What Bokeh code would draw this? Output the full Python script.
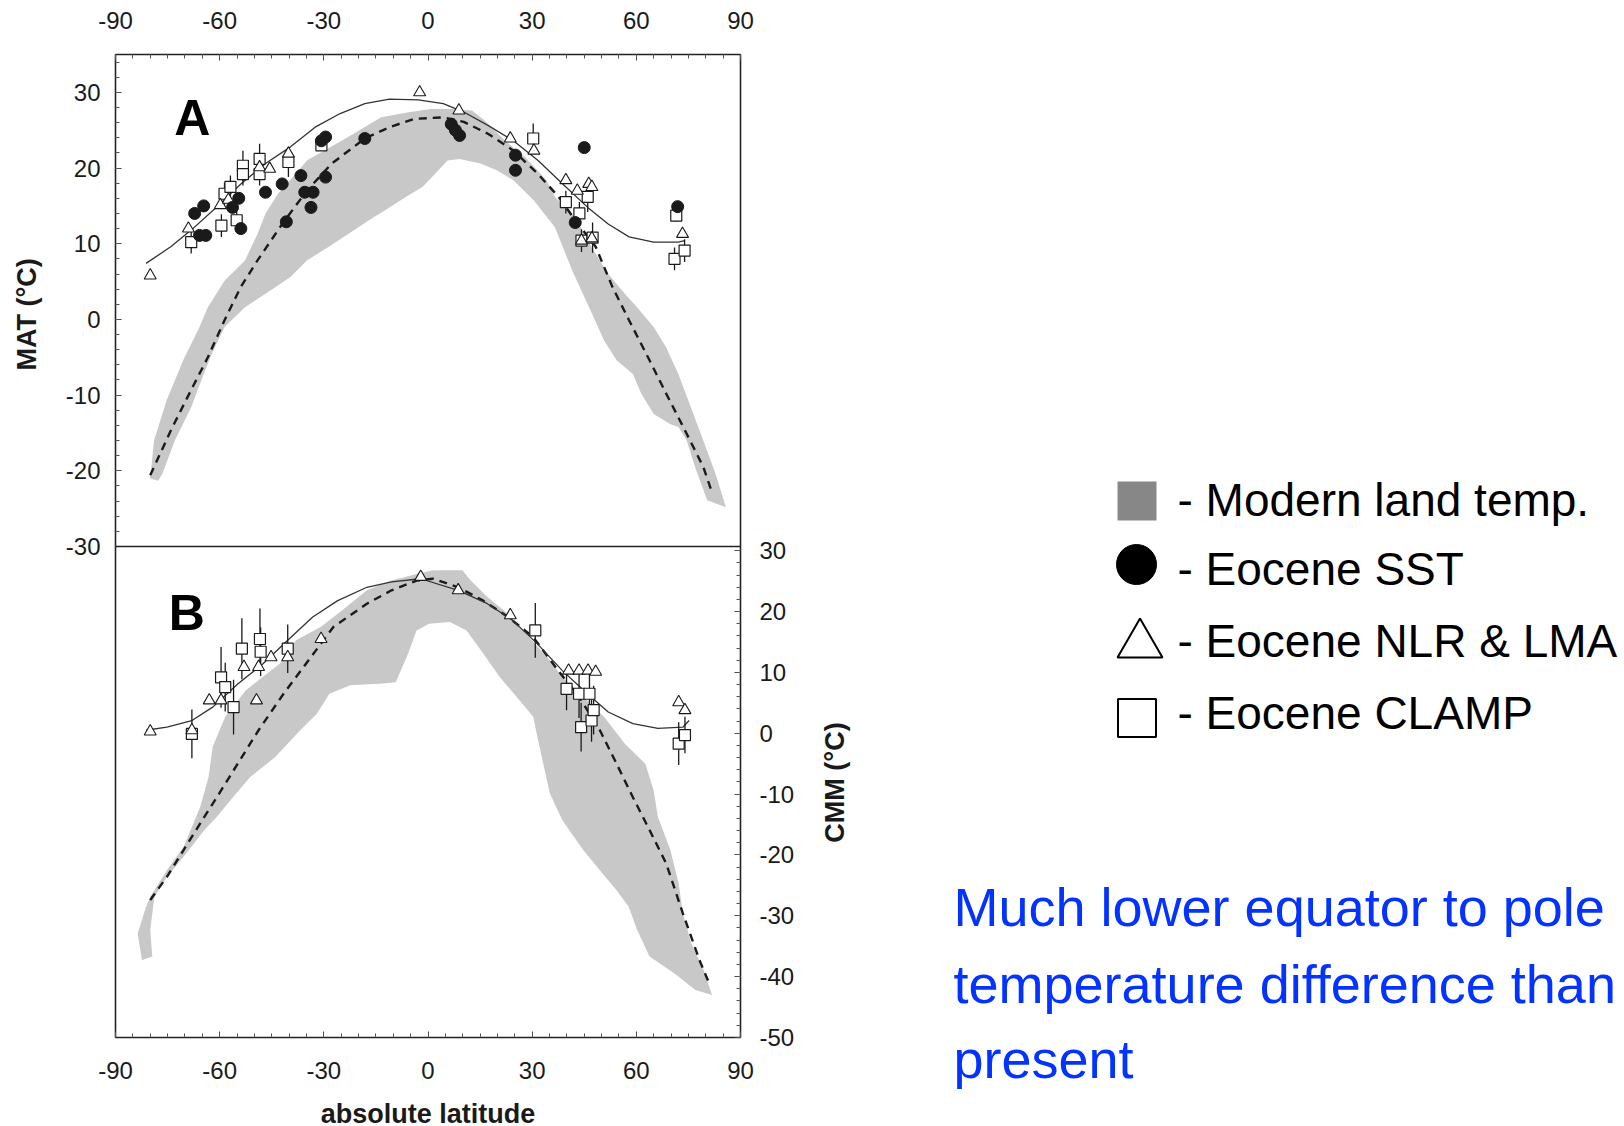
import math
from bokeh.plotting import figure
from bokeh.layouts import row
from bokeh.models import FixedTicker, Label, ColumnDataSource, Range1d, LinearAxis, Span
from bokeh.embed import file_html
from bokeh.resources import INLINE

# ---------------- tick labels ----------------
lat_ticks = [-90, -60, -30, 0, 30, 60, 90]
lat_minor = list(range(-90, 91, 5))
mat_ticks = [-30, -20, -10, 0, 10, 20, 30]
mat_minor = list(range(-30, 35, 2))
cmm_ticks = [-50, -40, -30, -20, -10, 0, 10, 20, 30]
cmm_minor = list(range(-50, 31, 2))

# ---------------- Panel A : MAT ----------------
# modern land temperature range (outer edge left->right, then inner edge right->left)
band_a_lat = [-80.0, -78.9, -75.3, -70.5, -65.8, -63.4, -58.6, -52.7, -49.1, -46.8, -43.2, -37.2,
              -34.9, -23.0, -13.5, -5.2, 0.8, 6.7, 12.7, 16.2, 22.2, 28.1, 34.1, 36.5, 42.4, 46.0,
              51.9, 56.7, 60.2, 65.0, 68.6, 72.1, 75.7, 79.3, 82.8, 85.8,
              80.4, 76.9, 74.5, 72.1, 69.7, 65.0, 61.4, 59.0, 54.3, 50.7, 47.5, 44.5, 41.5, 38.8,
              36.5, 30.5, 24.6, 19.8, 15.1, 9.1, 5.6, 2.0, -1.6, -6.3, -11.1, -17.0, -23.0, -28.9,
              -34.9, -39.6, -46.8, -52.7, -58.6, -62.2, -64.6, -68.2, -72.9, -76.5, -77.7]
band_a_mat = [-21.0, -16.0, -10.7, -5.4, -1.0, 1.6, 5.1, 7.8, 11.3, 14.0, 16.6, 19.7,
              21.0, 24.1, 26.7, 27.4, 27.8, 27.8, 27.6, 26.3, 23.6, 21.4, 18.4, 16.2, 13.5, 10.4,
              6.0, 3.4, 1.6, -1.0, -3.7, -7.2, -11.6, -16.0, -20.4, -24.8,
              -23.9, -19.5, -16.0, -14.2, -13.8, -12.5, -9.8, -7.2, -5.4, -2.8, 0.5, 3.5, 6.5, 9.6,
              12.2, 15.7, 18.4, 19.7, 20.6, 21.2, 21.0, 19.2, 17.5, 16.2, 14.8, 13.1, 11.3, 9.5,
              7.8, 5.6, 3.4, 1.6, -1.0, -4.5, -7.2, -11.6, -16.0, -20.4, -21.3]

# modern mean (dashed)
mod_a_lat = [-80.0, -74.1, -69.3, -63.4, -58.6, -53.9, -49.1, -42.0, -34.9, -27.7, -18.2, -11.1,
             -4.0, 4.4, 10.3, 17.4, 24.6, 31.7, 37.6, 42.4, 48.3, 53.1, 57.9, 63.8, 68.6, 74.5,
             79.3, 81.6]
mod_a_mat = [-20.6, -14.7, -10.3, -5.0, -0.1, 4.3, 7.8, 12.6, 17.0, 20.6, 23.9, 25.4,
             26.5, 26.7, 26.1, 24.5, 22.3, 19.2, 16.2, 13.1, 9.6, 4.3, -0.1, -5.4, -9.8, -15.1,
             -19.5, -22.6]

# Eocene fit (solid)
eoc_a_lat = [-81.2, -74.1, -68.2, -61.0, -53.9, -46.8, -39.6, -32.5, -25.3, -18.2, -11.1, -2.8,
             4.4, 10.3, 17.4, 24.6, 31.7, 38.8, 46.0, 51.9, 57.9, 65.0, 72.1, 73.9]
eoc_a_mat = [7.4, 9.6, 11.8, 14.8, 17.9, 20.6, 22.8, 25.4, 27.2, 28.5, 29.1, 29.0,
             28.5, 27.4, 25.6, 23.6, 21.0, 17.9, 14.8, 12.6, 10.9, 10.2, 10.2, 10.4]

# Eocene SST (filled circles)
sst_a_lat = [-67.2, -64.6, -65.8, -64.0, -53.9, -54.5, -56.3, -46.8, -42.0, -36.6, -35.5, -33.1,
             -33.7, -29.5, -40.8, -30.7, -29.5, -18.2, 6.7, 7.9, 9.1, 25.2, 25.2, 45.0, 42.4, 71.9]
sst_a_mat = [14.0, 15.0, 11.1, 11.1, 12.0, 16.0, 14.8, 16.8, 17.9, 19.0, 16.8, 16.8,
             14.8, 18.8, 12.9, 23.6, 24.1, 23.9, 25.8, 25.0, 24.3, 21.7, 19.7, 22.7, 12.8, 14.9]

# Eocene NLR & LMA (open triangles)
nlr_a_lat = [-80.0, -69.0, -59.8, -57.5, -48.5, -45.6, -40.2, -2.4, 8.9, 23.7, 30.5, 39.7,
             43.0, 46.3, 47.2, 44.2, 47.2, 73.3]
nlr_a_mat = [5.8, 12.0, 15.1, 15.8, 20.1, 19.9, 21.9, 30.0, 27.6, 23.9, 22.3, 18.4,
             17.0, 17.9, 17.5, 10.4, 10.7, 11.3]

# Eocene CLAMP (open squares with error bars)
clp_a_lat = [-68.2, -59.5, -58.6, -56.9, -55.1, -53.3, -53.3, -48.5, -48.5, -40.2, -30.7, 30.3,
             39.7, 43.6, 46.0, 44.2, 47.4, 71.5, 71.0, 73.9]
clp_a_mat = [10.2, 12.4, 16.6, 17.5, 13.1, 20.3, 19.2, 21.2, 19.2, 20.8, 23.0, 23.9,
             15.5, 14.0, 16.2, 10.4, 10.8, 13.7, 8.0, 9.1]
clp_a_err = [1.5, 1.5, 1.5, 1.5, 1.2, 2.0, 1.5, 2.0, 1.5, 2.0, 0.5, 2.0,
             1.5, 1.5, 2.0, 1.5, 2.0, 0.8, 1.5, 1.5]

# ---------------- Panel B : CMM ----------------
band_b_lat = [-82.4, -83.6, -81.2, -80.0, -75.2, -70.4, -65.6, -63.2, -62.0, -58.4, -52.4, -42.8,
              -38.0, -30.8, -24.8, -17.6, -10.5, -3.3, 1.5, 9.9, 12.3, 17.1, 23.1, 29.1, 35.1,
              38.7, 44.7, 50.7, 56.7, 62.6, 65.0, 66.2, 69.8, 72.2, 73.4, 75.8, 79.4, 81.8,
              77.0, 71.0, 63.8, 60.2, 57.8, 54.3, 49.5, 44.7, 38.7, 35.1, 31.5, 30.3, 25.5, 20.7,
              15.9, 11.1, 6.3, 0.3, -3.3, -5.7, -9.3, -12.9, -22.4, -28.4, -32.0, -36.8, -44.0,
              -51.2, -56.0, -60.8, -64.4, -70.4, -75.2, -78.8, -80.0, -79.4]
band_b_cmm = [-37.3, -32.9, -28.5, -26.9, -22.5, -18.7, -12.1, -7.2, -2.2, 2.7, 7.1, 11.4,
              15.3, 17.5, 20.2, 23.5, 25.1, 26.2, 26.8, 26.8, 25.1, 22.4, 19.6, 15.8, 12.0,
              9.2, 6.0, 2.7, -1.7, -5.0, -9.4, -13.7, -19.2, -24.7, -29.6, -34.5, -38.9, -43.0,
              -42.2, -39.5, -36.7, -32.3, -28.5, -25.8, -22.5, -19.2, -14.3, -9.9, -0.6, 2.7, 6.0,
              9.2, 13.1, 16.9, 18.3, 18.0, 16.9, 13.1, 8.4, 8.2, 7.9, 6.5, 3.2, 0.5, -3.9,
              -7.2, -10.4, -13.7, -15.9, -20.3, -23.6, -26.9, -32.3, -36.7]

mod_b_lat = [-80.0, -75.2, -70.4, -65.6, -60.8, -54.8, -48.8, -41.6, -34.4, -27.2, -17.6, -10.5,
             -3.3, 1.5, 8.7, 15.9, 23.1, 30.3, 37.5, 43.5, 49.5, 54.3, 59.0, 63.8, 68.6, 73.4,
             78.2, 81.2]
mod_b_cmm = [-27.4, -23.6, -19.2, -14.8, -10.5, -5.0, 0.5, 6.5, 12.0, 17.5, 21.3, 23.5,
             25.1, 25.4, 24.0, 21.8, 19.1, 15.8, 10.3, 6.0, 0.5, -5.0, -10.5, -15.9, -21.4, -29.6,
             -37.3, -41.4]

eoc_b_lat = [-81.2, -75.2, -68.0, -62.0, -54.8, -47.6, -40.4, -33.2, -26.0, -17.6, -10.5, -2.1,
             8.7, 17.1, 24.3, 31.5, 38.7, 45.9, 51.9, 59.0, 66.2, 73.4, 75.2]
eoc_b_cmm = [0.5, 1.0, 2.1, 4.3, 8.1, 11.4, 15.3, 19.1, 21.8, 24.0, 24.9, 25.4,
             23.5, 21.3, 18.6, 14.7, 10.3, 6.5, 3.5, 1.6, 0.8, 1.0, 2.1]

nlr_b_lat = [-80.0, -68.0, -63.0, -59.6, -49.4, -53.0, -48.8, -45.2, -40.4, -30.8, -2.1, 8.7,
             23.7, 40.5, 43.5, 46.1, 48.3, 72.2, 74.0]
nlr_b_cmm = [0.3, 0.5, 5.4, 5.4, 5.4, 10.9, 10.9, 12.5, 12.5, 15.5, 25.7, 23.5,
             19.4, 10.3, 10.3, 10.3, 10.1, 5.1, 3.8]

clp_b_lat = [-68.0, -59.6, -58.4, -56.0, -53.6, -48.4, -48.2, -40.4, 30.9, 39.9, 43.5, 46.5,
             44.1, 47.1, 47.7, 72.2, 74.0]
clp_b_cmm = [-0.1, 9.2, 7.6, 4.3, 13.9, 15.5, 13.4, 13.9, 16.9, 7.3, 6.5, 6.5,
             1.0, 2.1, 3.8, -1.7, -0.3]
clp_b_err = [4.0, 5.0, 4.0, 4.5, 5.0, 5.0, 4.0, 4.0, 4.5, 3.5, 4.0, 4.0,
             4.0, 3.5, 4.0, 3.5, 3.0]

# ---------------- legend / note text ----------------
legend_labels = ["- Modern land temp.", "- Eocene SST", "- Eocene NLR & LMA", "- Eocene CLAMP"]
note_lines = ["Much lower equator to pole", "temperature difference than", "present"]

FONT = "Liberation Sans"
BAND = "#c8c8c8"
INK = "#1a1a1a"

# panel geometry: A occupies the upper 492 px of the frame, B the lower 491 px
A_TOP, A_BOT = 35.0, -30.0
B_TOP, B_BOT = 30.7, -50.0
H_A, H_B = 492, 491
a_start = A_BOT - (A_TOP - A_BOT) * H_B / H_A
b_end = B_TOP + (B_TOP - B_BOT) * H_A / H_B
TOP_B, BOT_B = 54, 89
PAGE_H = TOP_B + H_A + H_B + BOT_B

mat_range = Range1d(a_start, A_TOP)
cmm_range = Range1d(B_BOT, b_end)


def style_axis(ax, ticks, minor, standoff):
    ax.ticker = FixedTicker(ticks=ticks, minor_ticks=minor)
    ax.major_label_overrides = {t: str(t) for t in ticks}
    ax.major_label_text_font = FONT
    ax.major_label_text_font_size = "24px"
    ax.major_label_text_color = INK
    ax.major_label_standoff = standoff
    ax.major_tick_in = 6
    ax.major_tick_out = 0
    ax.minor_tick_in = 4
    ax.minor_tick_out = 0
    ax.major_tick_line_color = "#444444"
    ax.minor_tick_line_color = "#555555"
    ax.axis_line_color = None
    ax.axis_label_text_font = FONT
    ax.axis_label_text_font_size = "27px"
    ax.axis_label_text_font_style = "bold"
    ax.axis_label_text_color = INK


def draw_panel(p, rng, band_x, band_y, mod_x, mod_y, eoc_x, eoc_y, sst_x, sst_y,
               nlr_x, nlr_y, clp_x, clp_y, clp_e):
    p.patch(band_x, band_y, fill_color=BAND, line_color=None, y_range_name=rng)
    p.line(mod_x, mod_y, line_color=INK, line_width=2.4, line_dash="8 6", y_range_name=rng)
    p.line(eoc_x, eoc_y, line_color="#333333", line_width=1.3, y_range_name=rng)
    src = ColumnDataSource(dict(x=clp_x, y=clp_y,
                                lo=[v - e for v, e in zip(clp_y, clp_e)],
                                hi=[v + e for v, e in zip(clp_y, clp_e)]))
    p.segment(x0="x", y0="lo", x1="x", y1="hi", source=src, line_color=INK, line_width=1.3,
              y_range_name=rng)
    p.scatter("x", "y", source=src, marker="square", size=11, fill_color="white",
              line_color=INK, line_width=1.2, y_range_name=rng)
    if nlr_x:
        p.scatter(nlr_x, nlr_y, marker="triangle", size=12, fill_color="white",
                  line_color=INK, line_width=1.1, y_range_name=rng)
    if sst_x:
        p.scatter(sst_x, sst_y, marker="circle", size=12, fill_color=INK, line_color=INK,
                  y_range_name=rng)


def blank(fig):
    fig.grid.visible = False
    fig.outline_line_color = None
    fig.background_fill_color = "white"
    fig.border_fill_color = "white"


# ---------------- main figure with both panels ----------------
p = figure(x_range=Range1d(-90, 90), y_range=mat_range,
           frame_width=625, frame_height=H_A + H_B,
           min_border_left=63, min_border_top=TOP_B, min_border_bottom=BOT_B, min_border_right=68,
           x_axis_location="above", output_backend="svg", toolbar_location=None)
p.extra_y_ranges = {"cmm": cmm_range}
p.grid.visible = False
p.outline_line_color = "#222222"
p.outline_line_width = 1.6
p.background_fill_color = "white"
p.border_fill_color = "white"

style_axis(p.xaxis[0], lat_ticks, lat_minor, 26)
style_axis(p.yaxis[0], mat_ticks, mat_minor, 15)

bottom_axis = LinearAxis()
style_axis(bottom_axis, lat_ticks, lat_minor, 24)
bottom_axis.axis_label = "absolute latitude"
bottom_axis.axis_label_standoff = 17
p.add_layout(bottom_axis, "below")

right_axis = LinearAxis(y_range_name="cmm")
style_axis(right_axis, cmm_ticks, cmm_minor, 19)
p.add_layout(right_axis, "right")

# divider between panels
p.add_layout(Span(location=A_BOT, dimension="width", line_color="#222222", line_width=1.6))

draw_panel(p, "default", band_a_lat, band_a_mat, mod_a_lat, mod_a_mat, eoc_a_lat, eoc_a_mat,
           sst_a_lat, sst_a_mat, nlr_a_lat, nlr_a_mat, clp_a_lat, clp_a_mat, clp_a_err)
draw_panel(p, "cmm", band_b_lat, band_b_cmm, mod_b_lat, mod_b_cmm, eoc_b_lat, eoc_b_cmm,
           [], [], nlr_b_lat, nlr_b_cmm, clp_b_lat, clp_b_cmm, clp_b_err)

# panel letters
p.add_layout(Label(x=-73.1, y=26.6, text="A", text_font=FONT, text_font_size="50px",
                   text_font_style="bold", text_color="black", text_baseline="middle"))
p.add_layout(Label(x=-74.7, y=19.8, y_range_name="cmm", text="B", text_font=FONT,
                   text_font_size="50px", text_font_style="bold", text_color="black",
                   text_baseline="middle"))

# ---------------- narrow strips holding the panel axis titles ----------------
lf = figure(x_range=Range1d(0, 52), y_range=mat_range, width=52, height=PAGE_H,
            min_border_left=0, min_border_right=0, min_border_top=TOP_B,
            min_border_bottom=BOT_B, x_axis_type=None, y_axis_type=None,
            output_backend="svg", toolbar_location=None)
blank(lf)
lf.add_layout(Label(x=26, y=0.5, text="MAT (°C)", angle=math.pi / 2, text_font=FONT,
                    text_font_size="27px", text_font_style="bold", text_color=INK,
                    text_align="center", text_baseline="middle"))

rf = figure(x_range=Range1d(0, 52), y_range=cmm_range, width=52, height=PAGE_H,
            min_border_left=0, min_border_right=0, min_border_top=TOP_B,
            min_border_bottom=BOT_B, x_axis_type=None, y_axis_type=None,
            output_backend="svg", toolbar_location=None)
blank(rf)
rf.add_layout(Label(x=26, y=-8.7, text="CMM (°C)", angle=math.pi / 2, text_font=FONT,
                    text_font_size="27px", text_font_style="bold", text_color=INK,
                    text_align="center", text_baseline="middle"))

# ---------------- legend / note area (pixel coordinates, y downward) ----------------
pc = figure(x_range=Range1d(0, 764), y_range=Range1d(PAGE_H, 0), width=764, height=PAGE_H,
            min_border=0, x_axis_type=None, y_axis_type=None,
            output_backend="svg", toolbar_location=None)
blank(pc)

pc.scatter([276.5], [500.5], marker="square", size=39, fill_color="#878787", line_color=None)
pc.scatter([276], [564], marker="circle", size=40, fill_color="black", line_color="black")
pc.scatter([279.5], [644], marker="triangle", size=45, fill_color="white", line_color="black",
           line_width=2)
pc.scatter([276.5], [717.5], marker="square", size=38, fill_color="white", line_color="black",
           line_width=2)
legend_centers = [499, 568, 640, 712]
for txt, yc in zip(legend_labels, legend_centers):
    pc.add_layout(Label(x=317, y=yc, text=txt, text_font=FONT, text_font_size="46px",
                        text_color="black", text_baseline="middle"))

note_centers = [906, 983, 1058]
for txt, yc in zip(note_lines, note_centers):
    pc.add_layout(Label(x=93, y=yc, text=txt, text_font=FONT, text_font_size="54px",
                        text_color="#0433ff", text_baseline="middle"))

layout = row(row(lf, p, rf, spacing=0), pc, spacing=0)

open("out.html", "w").write(file_html(layout, INLINE))
